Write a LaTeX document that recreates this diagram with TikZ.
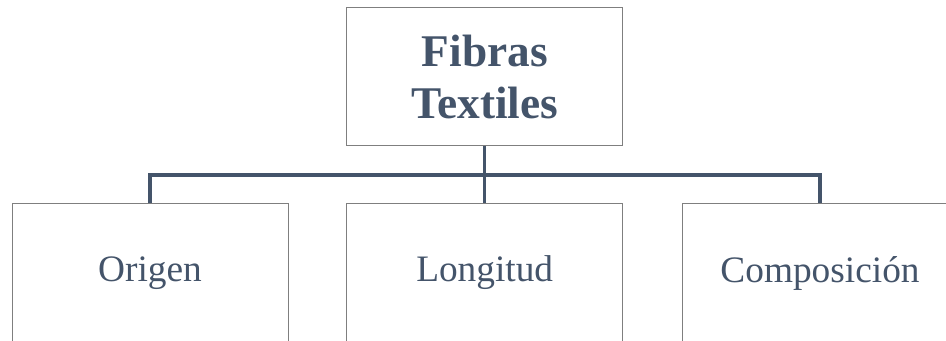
\documentclass[tikz,border=0pt]{standalone}
\usepackage{fontspec}
\setmainfont{Liberation Serif}
\definecolor{txt}{HTML}{44546A}
\definecolor{boxline}{HTML}{7F7F7F}
\begin{document}
\begin{tikzpicture}[x=0.75pt,y=-0.75pt,
  box/.style={draw=boxline,line width=0.75pt,fill=white,rectangle,minimum width=276*0.75pt,minimum height=138*0.75pt,inner sep=0pt,text=txt,align=center},
  conn/.style={draw=txt,line width=2.3pt}]
\useasboundingbox (0,0) rectangle (946,341);
\clip (0,0) rectangle (946,341);
\coordinate (bus) at (0,175);
\node[box,font=\fontsize{34}{39}\selectfont\bfseries] (top) at (484.7,77) {Fibras\\Textiles};
\node[box,font=\fontsize{28}{34}\selectfont] (left) at (150,273) {Origen};
\node[box,font=\fontsize{28}{34}\selectfont] (mid) at (484.7,273) {Longitud};
\node[box,font=\fontsize{28}{34}\selectfont] (right) at (820,273) {Composición};
\draw[conn] (top.south) -- (mid.north);
\draw[conn] (left.north) -- (left.north |- bus) -- (right.north |- bus) -- (right.north);
\end{tikzpicture}
\end{document}
